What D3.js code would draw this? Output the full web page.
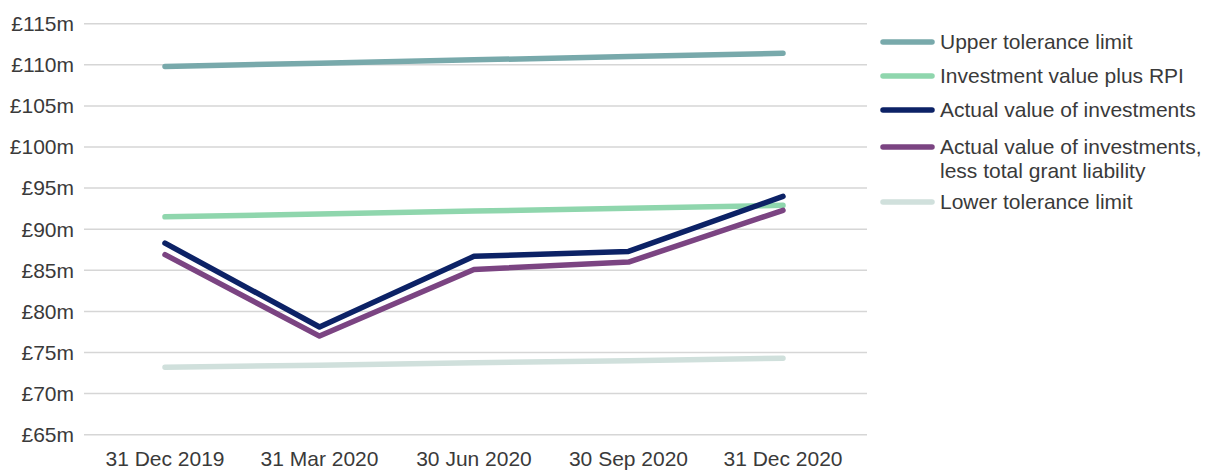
<!DOCTYPE html>
<html>
<head>
<meta charset="utf-8">
<script src="https://cdn.jsdelivr.net/npm/d3@7"></script>
<style>
  body { margin: 0; background: #fff; }
  text { font-family: "Liberation Sans", "DejaVu Sans", sans-serif; fill: #3a3a3a; }
</style>
</head>
<body>
<script>
const dates = ["31 Dec 2019", "31 Mar 2020", "30 Jun 2020", "30 Sep 2020", "31 Dec 2020"]
const upperLimit = [109.8, 110.2, 110.6, 111.0, 111.4]
const rpiValue = [91.5, 91.85, 92.2, 92.55, 92.9]
const actualValue = [88.3, 78.1, 86.7, 87.3, 94.0]
const lessGrant = [86.9, 77.0, 85.1, 86.0, 92.3]
const lowerLimit = [73.2, 73.45, 73.75, 74.0, 74.3]
const yTicks = [65, 70, 75, 80, 85, 90, 95, 100, 105, 110, 115]

const series = [
  {name: ["Upper tolerance limit"], values: upperLimit, color: "#78a9ab"},
  {name: ["Investment value plus RPI"], values: rpiValue, color: "#8fd6ad"},
  {name: ["Actual value of investments"], values: actualValue, color: "#0c2266"},
  {name: ["Actual value of investments,", "less total grant liability"], values: lessGrant, color: "#7b4482"},
  {name: ["Lower tolerance limit"], values: lowerLimit, color: "#d0e0dc"}
]
// draw order: lower/upper first, then rpi, then purple, navy on top
const drawOrder = [4, 0, 1, 3, 2]

const width = 1210
const height = 472

const svg = d3.select("body")
    .append("svg")
    .attr("width", width)
    .attr("height", height)

const x = d3.scalePoint()
    .domain(dates)
    .range([165, 783])

const y = d3.scaleLinear()
    .domain([65, 115])
    .range([434.7, 23.7])

// gridlines
svg.append("g")
    .selectAll("line")
    .data(yTicks)
    .join("line")
    .attr("x1", 84)
    .attr("x2", 867)
    .attr("y1", d => y(d))
    .attr("y2", d => y(d))
    .attr("stroke", "#d6d6d6")
    .attr("stroke-width", 1.5)

// y labels
svg.append("g")
    .selectAll("text")
    .data(yTicks)
    .join("text")
    .attr("x", 74)
    .attr("y", d => y(d))
    .attr("dy", "0.35em")
    .attr("text-anchor", "end")
    .attr("font-size", 21)
    .text(d => `£${d}m`)

// x labels
svg.append("g")
    .selectAll("text")
    .data(dates)
    .join("text")
    .attr("x", d => x(d))
    .attr("y", 466)
    .attr("text-anchor", "middle")
    .attr("font-size", 21)
    .text(d => d)

const line = d3.line()
    .x((d, i) => x(dates[i]))
    .y(d => y(d))

svg.append("g")
    .selectAll("path")
    .data(drawOrder.map(i => series[i]))
    .join("path")
    .attr("d", d => line(d.values))
    .attr("fill", "none")
    .attr("stroke", d => d.color)
    .attr("stroke-width", 5.5)
    .attr("stroke-linecap", "round")
    .attr("stroke-linejoin", "round")

// legend
const legendY = [42, 76, 110, 147, 202]
const legend = svg.append("g")
    .selectAll("g")
    .data(series)
    .join("g")
    .attr("transform", (d, i) => `translate(0,${legendY[i]})`)

legend.append("line")
    .attr("x1", 883)
    .attr("x2", 932)
    .attr("stroke", d => d.color)
    .attr("stroke-width", 5.5)
    .attr("stroke-linecap", "round")

legend.append("text")
    .attr("x", 940)
    .attr("font-size", 21)
    .selectAll("tspan")
    .data(d => d.name)
    .join("tspan")
    .attr("x", 940)
    .attr("y", (d, i) => i * 24)
    .attr("dy", "0.35em")
    .text(d => d)
</script>
</body>
</html>
